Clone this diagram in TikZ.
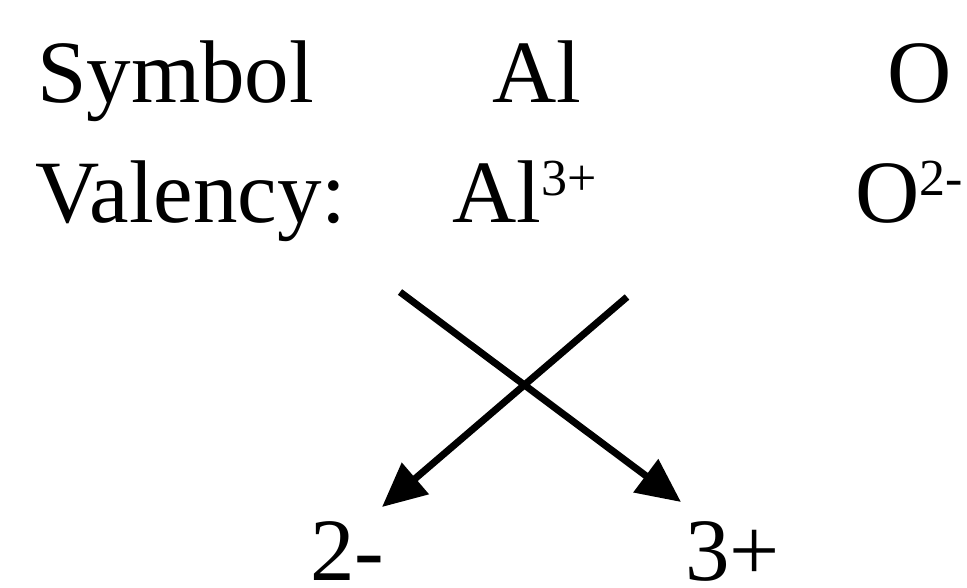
\documentclass[tikz,border=0pt]{standalone}
\usepackage{fontspec}
\setmainfont{Liberation Serif}
\usetikzlibrary{arrows.meta}
\newcommand{\supx}[1]{{\fontsize{52}{52}\selectfont\raisebox{27pt}{#1}}}
\tikzset{
  lbl/.style={anchor=base west, inner sep=0pt, font=\fontsize{89}{89}\selectfont},
  cross/.style={line width=7pt, -{Triangle[length=44pt,width=40pt]}}
}
\begin{document}
\begin{tikzpicture}[x=1pt,y=-1pt]
\useasboundingbox (0,0) rectangle (967,587);
\node[lbl] (sym) at (37,102) {Symbol};
\node[lbl] (al) at (492,102) {Al};
\node[lbl] (o) at (887,102) {O};
\node[lbl] (val) at (35,222) {Valency:};
\node[lbl] (alv) at (452,222) {Al\supx{3+}};
\node[lbl] (ov) at (855,222) {O\supx{2-}};
\node[lbl, text depth=0pt] (two) at (310,580) {2-};
\node[lbl, text depth=0pt] (three) at (685,580) {3+};
\coordinate (s1) at (400,292);
\coordinate (e1) at (681,502);
\coordinate (s2) at (627,297);
\coordinate (e2) at (382,507);
\draw[cross] (s1) -- (e1);
\draw[cross] (s2) -- (e2);
\end{tikzpicture}
\end{document}
